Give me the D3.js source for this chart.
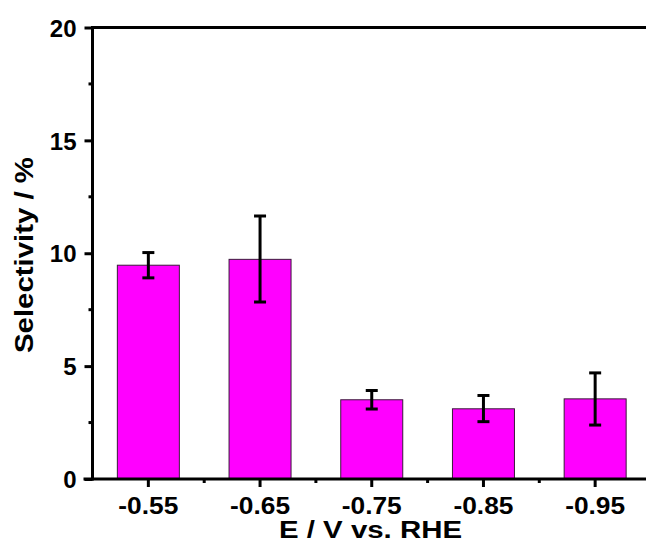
<!DOCTYPE html>
<html>
<head>
<meta charset="utf-8">
<script src="https://cdn.jsdelivr.net/npm/d3@7"></script>
<style>
  body { margin: 0; background: #fff; }
  svg text { font-family: "Liberation Sans", Arial, sans-serif; font-weight: bold; fill: #000; }
</style>
</head>
<body>
<svg id="chart"></svg>
<script>
// data
const potentials = ["-0.55", "-0.65", "-0.75", "-0.85", "-0.95"];
const selectivity = [9.47, 9.73, 3.51, 3.11, 3.55];
const errUpper = [10.03, 11.65, 3.92, 3.70, 4.70];
const errLower = [8.91, 7.84, 3.10, 2.54, 2.39];
const yTicks = [0, 5, 10, 15, 20];
const yMinor = [2.5, 7.5, 12.5, 17.5];

const WIDTH = 646, HEIGHT = 550;
const PLOT_L = 92.5, PLOT_T = 27.5, PLOT_R = 651, PLOT_B = 479;

const SVG = d3.select("#chart").attr("width", WIDTH).attr("height", HEIGHT);

const x = d3.scaleBand()
  .domain(potentials)
  .range([PLOT_L, PLOT_R])
  .paddingInner(0.445)
  .paddingOuter(0.2225);

const y = d3.scaleLinear().domain([0, 20]).range([PLOT_B, PLOT_T]);

// bars
SVG.append("g").selectAll("rect")
  .data(potentials)
  .join("rect")
  .attr("x", d => x(d))
  .attr("y", (d, i) => y(selectivity[i]))
  .attr("width", x.bandwidth())
  .attr("height", (d, i) => y(0) - y(selectivity[i]))
  .attr("fill", "#ff00ff")
  .attr("stroke", "#3a1a3a")
  .attr("stroke-width", 1);

// error bars
const eb = SVG.append("g").attr("stroke", "#000").attr("stroke-width", 3);
potentials.forEach((p, i) => {
  const cx = x(p) + x.bandwidth() / 2;
  eb.append("line").attr("x1", cx).attr("x2", cx).attr("y1", y(errUpper[i])).attr("y2", y(errLower[i]));
  [errUpper[i], errLower[i]].forEach(v => {
    eb.append("line").attr("x1", cx - 6).attr("x2", cx + 6).attr("y1", y(v)).attr("y2", y(v));
  });
});

// y axis
const yAxis = SVG.append("g").attr("transform", `translate(${PLOT_L},0)`)
  .call(d3.axisLeft(y).tickValues(yTicks).tickSize(8).tickPadding(8).tickSizeOuter(0));
yAxis.select(".domain").attr("stroke-width", 3).attr("d", `M0,${PLOT_B + 1.5}V${PLOT_T - 1.5}`);
yAxis.selectAll(".tick line").attr("stroke-width", 3);
yAxis.selectAll(".tick text").style("font-size", "24px").attr("dy", "0.36em").attr("x", -16);
yAxis.append("g").selectAll("line").data(yMinor).join("line")
  .attr("x1", -4).attr("x2", 0).attr("y1", d => y(d)).attr("y2", d => y(d))
  .attr("stroke", "#000").attr("stroke-width", 3);

// x axis
const xAxis = SVG.append("g").attr("transform", `translate(0,${PLOT_B})`)
  .call(d3.axisBottom(x).tickSize(8).tickPadding(10).tickSizeOuter(0));
xAxis.select(".domain").attr("stroke-width", 3).attr("d", `M${PLOT_L - 9},0H${PLOT_R}`);
xAxis.selectAll(".tick line").attr("stroke-width", 3);
xAxis.selectAll(".tick text").style("font-size", "24px").attr("textLength", 60).attr("lengthAdjust", "spacingAndGlyphs");
xAxis.append("g").selectAll("line").data(potentials.slice(1)).join("line")
  .attr("x1", d => x(d) - x.step() * x.paddingInner() / 2)
  .attr("x2", d => x(d) - x.step() * x.paddingInner() / 2)
  .attr("y1", 0).attr("y2", 4)
  .attr("stroke", "#000").attr("stroke-width", 3);

// top frame line
SVG.append("line").attr("x1", PLOT_L - 1.5).attr("x2", PLOT_R).attr("y1", PLOT_T).attr("y2", PLOT_T)
  .attr("stroke", "#000").attr("stroke-width", 3);

// axis titles
SVG.append("text")
  .attr("x", 370.5).attr("y", 538)
  .attr("text-anchor", "middle")
  .style("font-size", "23px")
  .attr("textLength", 183).attr("lengthAdjust", "spacingAndGlyphs")
  .text("E / V vs. RHE");

SVG.append("text")
  .attr("transform", "translate(33,255) rotate(-90)")
  .attr("text-anchor", "middle")
  .style("font-size", "25px")
  .attr("textLength", 196).attr("lengthAdjust", "spacingAndGlyphs")
  .text("Selectivity / %");
</script>
</body>
</html>
